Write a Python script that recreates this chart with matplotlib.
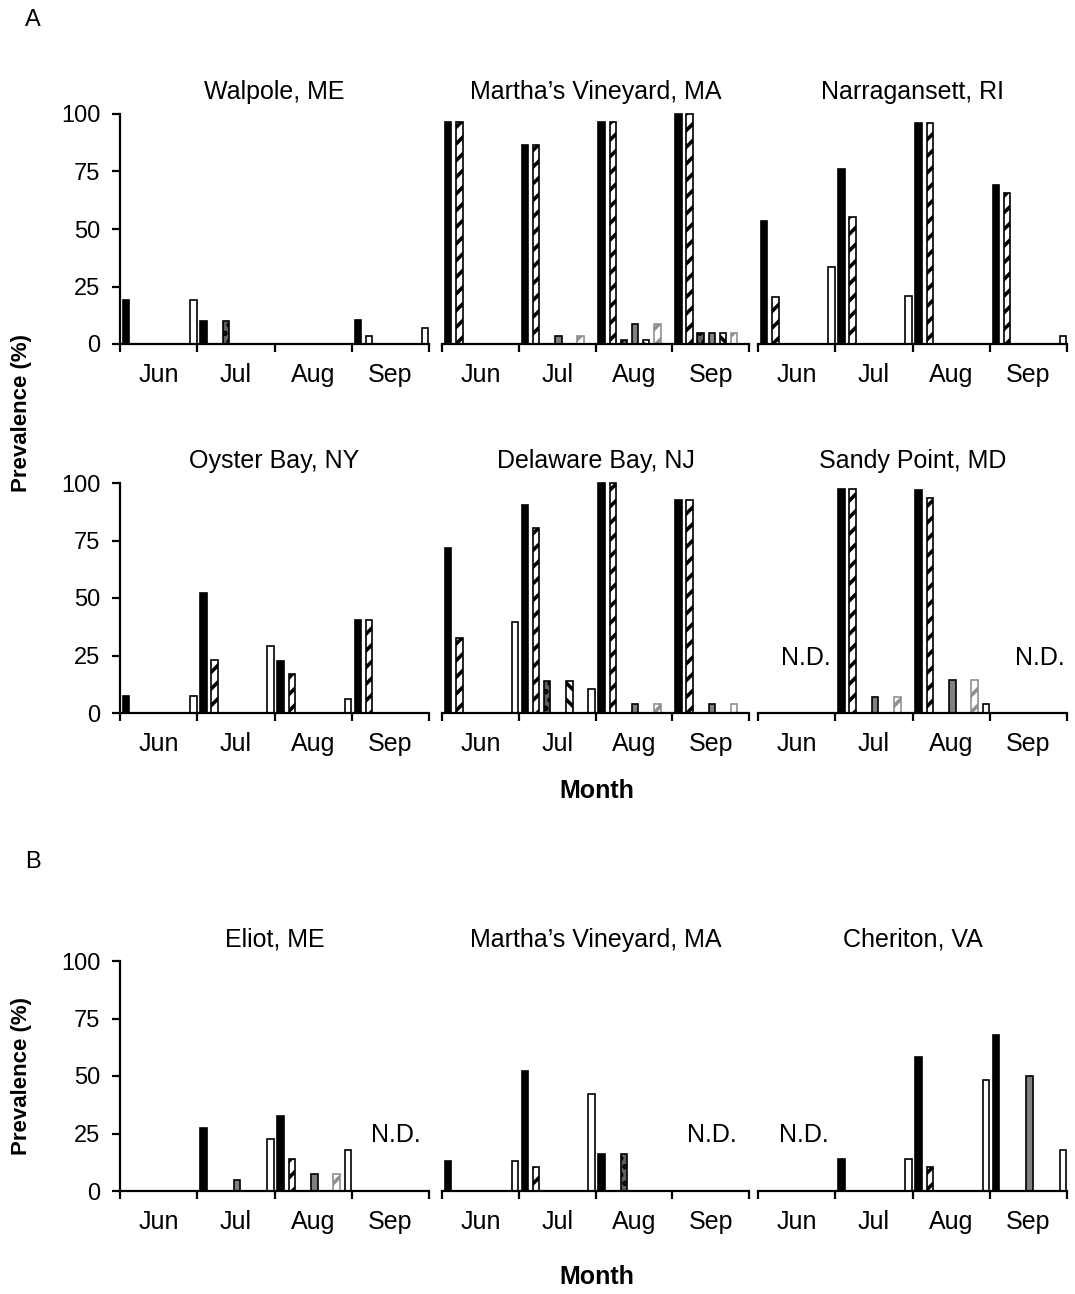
import matplotlib
matplotlib.use("Agg")
import matplotlib.pyplot as plt

plt.rcParams['font.family'] = ['Liberation Sans', 'DejaVu Sans']
plt.rcParams['hatch.linewidth'] = 2.6

months = ['Jun', 'Jul', 'Aug', 'Sep']
yticks = [0, 25, 50, 75, 100]

# values per month, 7 bar types in each month; None = N.D.
walpole = [[19, 0, 0, 0, 0, 0, 19],
           [10, 0, 10, 0, 0, 0, 0],
           [0, 0, 0, 0, 0, 0, 0],
           [10.5, 3.3, 0, 0, 0, 0, 7]]
martha_a = [[96.5, 96.5, 0, 0, 0, 0, 0],
            [86.5, 86.5, 0, 3.3, 0, 3.3, 0],
            [96.5, 96.5, 1.6, 8.5, 1.6, 8.5, 0],
            [100, 100, 5, 5, 5, 5, 0]]
narragansett = [[53.5, 20.3, 0, 0, 0, 0, 33.6],
                [75.9, 55.4, 0, 0, 0, 0, 20.9],
                [96.2, 96.2, 0, 0, 0, 0, 0],
                [69, 65.5, 0, 0, 0, 0, 3.6]]
oyster = [[7.2, 0, 0, 0, 0, 0, 7.2],
          [52, 22.9, 0, 0, 0, 0, 29.3],
          [22.5, 16.8, 0, 0, 0, 0, 5.9],
          [40.3, 40.3, 0, 0, 0, 0, 0]]
delaware = [[71.9, 32.5, 0, 0, 0, 0, 39.4],
            [90.3, 80.3, 13.9, 0, 13.9, 0, 10.4],
            [100, 100, 0, 3.8, 0, 3.8, 0],
            [92.7, 92.7, 0, 3.8, 0, 3.8, 0]]
sandy = [None,
         [97.4, 97.4, 0, 7.1, 0, 7.1, 0],
         [96.8, 93.3, 0, 14.3, 0, 14.3, 3.8],
         None]
eliot = [[0, 0, 0, 0, 0, 0, 0],
         [27.5, 0, 0, 4.6, 0, 0, 22.7],
         [32.5, 14.1, 0, 7.3, 0, 7.3, 17.8],
         None]
martha_b = [[13, 0, 0, 0, 0, 0, 13],
            [52.3, 10.6, 0, 0, 0, 0, 42],
            [15.9, 0, 15.9, 0, 0, 0, 0],
            None]
cheriton = [None,
            [13.9, 0, 0, 0, 0, 0, 13.9],
            [58.4, 10.3, 0, 0, 0, 0, 48.1],
            [68, 0, 0, 50, 0, 0, 17.7]]

panels = [('Walpole, ME', walpole), ("Martha\u2019s Vineyard, MA", martha_a), ('Narragansett, RI', narragansett),
          ('Oyster Bay, NY', oyster), ('Delaware Bay, NJ', delaware), ('Sandy Point, MD', sandy),
          ('Eliot, ME', eliot), ("Martha\u2019s Vineyard, MA", martha_b), ('Cheriton, VA', cheriton)]

# bar styles for the 7 types: face, edge, hatch
styles = [('black', 'black', None),
          ('white', 'black', '//'),
          ('#606060', 'black', '..'),
          ('#808080', 'black', None),
          ('white', 'black', '\\\\'),
          ('white', '#909090', '//'),
          ('white', 'black', None)]

W, H = 1075, 1294
fig = plt.figure(figsize=(W / 100, H / 100), dpi=100)

cols = [(120, 429), (442, 749), (758, 1067)]
rows = [(114, 344), (483, 713), (961, 1191)]
title_y = [92, 461, 940]
FS = 18

def ax_at(x0, x1, ytop, ybot):
    return fig.add_axes([x0 / W, 1 - ybot / H, (x1 - x0) / W, (ybot - ytop) / H])

for i, (name, data) in enumerate(panels):
    r, c = divmod(i, 3)
    x0, x1 = cols[c]
    ytop, ybot = rows[r]
    ax = ax_at(x0, x1, ytop, ybot)
    ax.set_xlim(0, 4)
    ax.set_ylim(0, 100)
    for m, vals in enumerate(data):
        if vals is None:
            continue
        for k, v in enumerate(vals):
            if v <= 0:
                continue
            fc, ec, h = styles[k]
            ax.bar(m + 0.08 + k * 0.145, v, width=0.085, color=fc, edgecolor=ec,
                   hatch=h, linewidth=1.2, clip_on=False, zorder=2)
    for s in ['top', 'right']:
        ax.spines[s].set_visible(False)
    ax.spines['bottom'].set_linewidth(1.6)
    ax.spines['bottom'].set_zorder(3)
    ax.set_xticks([0, 1, 2, 3, 4])
    ax.set_xticklabels([])
    ax.set_xticks([0.5, 1.5, 2.5, 3.5], minor=True)
    ax.set_xticklabels(months, minor=True, fontsize=FS)
    ax.tick_params(axis='x', which='major', direction='out', length=6, width=1.6)
    ax.tick_params(axis='x', which='minor', length=0, pad=14)
    if c == 0:
        ax.spines['left'].set_linewidth(1.6)
        ax.set_yticks(yticks)
        ax.set_yticklabels([str(t) for t in yticks], fontsize=17)
        ax.tick_params(axis='y', direction='out', length=6, width=1.6, pad=8)
    else:
        ax.spines['left'].set_visible(False)
        ax.set_yticks([])
    ax.patch.set_alpha(0)
    fig.text((x0 + x1) / 2 / W, 1 - title_y[r] / H, name, ha='center', va='center', fontsize=FS)

# N.D. labels: (panel index, x in months, y in %)
nd_marks = [(5, 0.62, 24), (5, 3.65, 24), (6, 3.57, 24.5), (7, 3.52, 24.5), (8, 0.6, 24.5)]
for idx, xd, yd in nd_marks:
    ax = fig.axes[idx]
    ax.text(xd, yd, 'N.D.', ha='center', va='center', fontsize=FS)

fig.text(33 / W, 1 - 20 / H, 'A', ha='center', va='center', fontsize=17)
fig.text(33 / W, 1 - 862 / H, 'B', ha='center', va='center', fontsize=17)
fig.text(22 / W, 1 - 413 / H, 'Prevalence (%)', rotation=90, ha='center', va='center',
         fontsize=16, fontweight='bold')
fig.text(22 / W, 1 - 1076 / H, 'Prevalence (%)', rotation=90, ha='center', va='center',
         fontsize=16, fontweight='bold')
fig.text(597 / W, 1 - 791 / H, 'Month', ha='center', va='center', fontsize=FS, fontweight='bold')
fig.text(597 / W, 1 - 1277 / H, 'Month', ha='center', va='center', fontsize=FS, fontweight='bold')

fig.savefig('out.png', dpi=100)
